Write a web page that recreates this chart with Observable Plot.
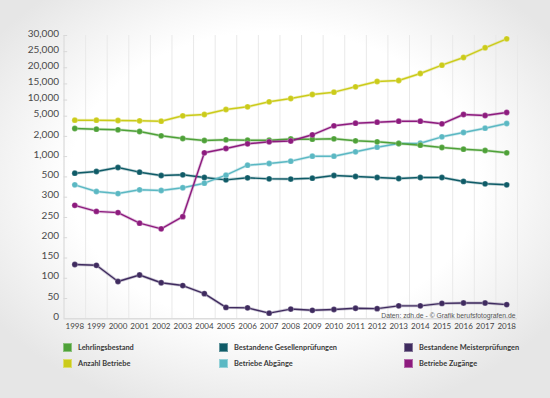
<!DOCTYPE html>
<html>
<head>
<meta charset="utf-8">
<script src="https://cdn.jsdelivr.net/npm/d3@7"></script>
<script src="https://cdn.jsdelivr.net/npm/@observablehq/plot@0.6"></script>
<style>
  html, body { margin: 0; padding: 0; }
  body { width: 550px; height: 398px; overflow: hidden;
    background: radial-gradient(ellipse 62% 62% at 50% 45%, #ffffff 60%, #e6e6e6 100%); }
  #wrap { position: relative; width: 550px; height: 398px; }
  #chart svg { display: block; }
  .lg { position: absolute; font-family: Lato, sans-serif; font-weight: 700; font-size: 7.4px; color: #3a3a3a; display: flex; align-items: center; white-space: nowrap; }
  .sw { width: 9px; height: 9px; margin-right: 6px; box-sizing: border-box; border: 1px solid rgba(255,255,255,0.35); }
</style>
</head>
<body>
<div id="wrap">
  <div id="chart"></div>
  <div id="legend"></div>
</div>
<script>
const years = [1998,1999,2000,2001,2002,2003,2004,2005,2006,2007,2008,2009,2010,2011,2012,2013,2014,2015,2016,2017,2018];
const lehrlingsbestand = [3173,3069,2980,2728,2089,1896,1797,1832,1812,1812,1871,1861,1881,1782,1733,1649,1564,1450,1366,1302,1188];
const anzahlBetriebe = [4406,4406,4360,4317,4257,5124,5527,7076,7913,9463,10486,11725,12438,14111,15754,16064,18233,20806,23192,26198,28977];
const gesellenpruefungen = [591,633,731,616,534,552,494,471,491,481,479,487,534,510,494,484,494,494,455,432,422];
const abgaenge = [422,356,336,373,366,393,438,542,788,830,887,1020,1020,1238,1465,1649,1663,1980,2579,3218,3916];
const meisterpruefungen = [134,132,92,108,89,82,62,28,27,14,24,21,23,26,25,32,32,38,39,39,35];
const zugaenge = [280,265,262,236,222,252,1188,1401,1634,1733,1772,2238,3574,3960,4109,4257,4257,3871,5527,5217,6147];
const yTicks = [0,50,100,150,200,250,300,500,1000,2000,5000,10000,15000,20000,25000,30000];
const yBreaks = [0,300,500,1000,2000,5000,30000];

const series = [
  {name: "Lehrlingsbestand", values: lehrlingsbestand, color: "#4ea138"},
  {name: "Bestandene Gesellenprüfungen", values: gesellenpruefungen, color: "#0f5b67"},
  {name: "Bestandene Meisterprüfungen", values: meisterpruefungen, color: "#3f2b5f"},
  {name: "Anzahl Betriebe", values: anzahlBetriebe, color: "#cbcb1a"},
  {name: "Betriebe Abgänge", values: abgaenge, color: "#5bb8c3"},
  {name: "Betriebe Zugänge", values: zugaenge, color: "#8d1b7e"}
];
const drawOrder = [2, 1, 4, 0, 5, 3];

const rows = [];
series.forEach(s => s.values.forEach((v, i) => rows.push({series: s.name, year: years[i], value: v})));

const boundaries = [years[0] - 0.5, ...years.map(y => y + 0.5)];
const H = 338;
const marks = [
  Plot.gridX(boundaries, {stroke: "#e9e9e9", strokeOpacity: 1}),
  Plot.ruleX([boundaries[0]], {stroke: "#dcdcdc"}),
  Plot.ruleY([0], {stroke: "#dcdcdc", strokeWidth: 1.5}),
  Plot.ruleY(yTicks.slice(1), {x1: boundaries[0], x2: boundaries[0] + 0.17, stroke: "#d8d8d8"}),
  Plot.axisY({ticks: yTicks, tickSize: 0, tickPadding: 5, tickFormat: d3.format(","), fontSize: 10, fill: "#4a4a4a", dy: -2, fontFamily: "Lato", label: null}),
  Plot.axisX({ticks: years, tickSize: 0, tickPadding: 5, tickFormat: d3.format("d"), fontSize: 8, fill: "#444", fontFamily: "Lato", label: null})
];
for (const k of drawOrder) {
  const s = series[k];
  const d = rows.filter(r => r.series === s.name);
  marks.push(Plot.line(d, {x: "year", y: "value", stroke: s.color, strokeWidth: 3, strokeOpacity: 0.25}));
  marks.push(Plot.line(d, {x: "year", y: "value", stroke: s.color, strokeWidth: 1.4}));
  marks.push(Plot.dot(d, {x: "year", y: "value", fill: s.color, r: 2.9, stroke: "white", strokeOpacity: 0.3, strokeWidth: 0.8}));
}
marks.push(Plot.text(["Daten: zdh.de - © Grafik berufsfotografen.de"], {
  frameAnchor: "bottom-right", dx: -2, dy: -1, fontSize: 6.8, fill: "#555", fontFamily: "Liberation Sans, Arial, sans-serif", textAnchor: "end", lineAnchor: "bottom"
}));

const chart = Plot.plot({
  width: 550,
  height: H,
  marginLeft: 63.5,
  marginRight: 33,
  marginTop: 35,
  marginBottom: H - 318.3,
  style: {background: "transparent", fontFamily: "Lato, sans-serif"},
  x: {type: "linear", domain: [boundaries[0], boundaries[boundaries.length - 1]], range: [63.5, 517], label: null},
  y: {type: "linear", domain: yBreaks, range: [318.3, 196.7, 176.4, 156.1, 135.9, 115.7, 35], label: null},
  marks
});
document.getElementById("chart").appendChild(chart);

const legend = document.getElementById("legend");
const colX = [63, 219, 404];
const rowY = [342.8, 358.5];
series.forEach((s, i) => {
  const el = document.createElement("div");
  el.className = "lg";
  el.style.left = colX[i % 3] + "px";
  el.style.top = rowY[Math.floor(i / 3)] + "px";
  el.style.height = "9px";
  el.innerHTML = `<span class="sw" style="background:${s.color}"></span>${s.name}`;
  legend.appendChild(el);
});
</script>
</body>
</html>
